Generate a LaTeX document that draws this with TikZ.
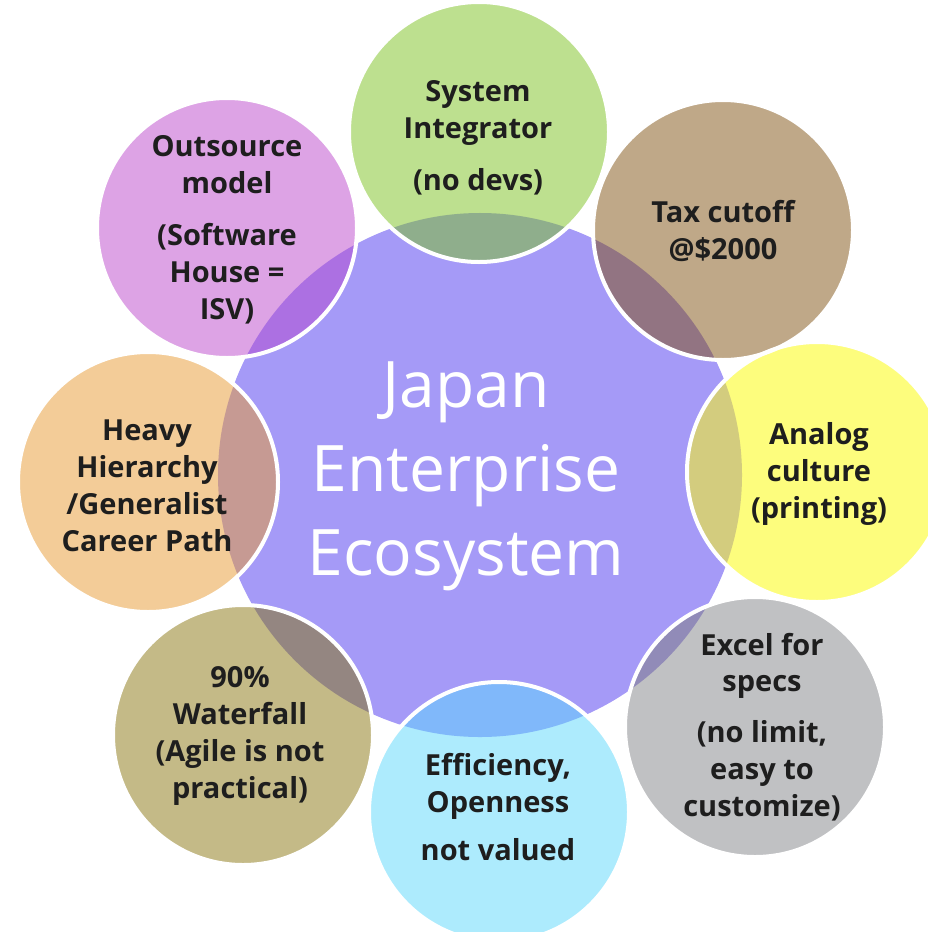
\documentclass[tikz,border=0pt]{standalone}
\usepackage{fontspec}
\setmainfont{Open Sans}

\definecolor{hubfill}{HTML}{A59AF7}
\definecolor{ink}{HTML}{1E1E1E}
\definecolor{sifill}{HTML}{BDE08F}  \definecolor{siover}{HTML}{8FAE8C}
\definecolor{taxfill}{HTML}{BFA888} \definecolor{taxover}{HTML}{927482}
\definecolor{anafill}{HTML}{FDFD7D} \definecolor{anaover}{HTML}{D3CC7E}
\definecolor{xlsfill}{HTML}{C0C1C3} \definecolor{xlsover}{HTML}{918BB8}
\definecolor{efffill}{HTML}{ADEBFD} \definecolor{effover}{HTML}{80B8FA}
\definecolor{wtrfill}{HTML}{C4BA87} \definecolor{wtrover}{HTML}{948681}
\definecolor{hiefill}{HTML}{F3CC98} \definecolor{hieover}{HTML}{C69A93}
\definecolor{outfill}{HTML}{DDA3E5} \definecolor{outover}{HTML}{AC70E2}

\begin{document}
\begin{tikzpicture}[x=0.2mm, y=-0.2mm,
  rim/.style={white, line width=0.8mm},
  lbl/.style={align=center, text=ink, font=\bfseries\fontsize{16.5}{21}\selectfont},
  hubtext/.style={align=center, text=white, font=\fontsize{36.5}{47.8}\selectfont}]
  \useasboundingbox (0,0) rectangle (928,932);
  \clip (0,0) rectangle (928,932);

  % centre and the eight satellites
  \coordinate (hub) at (480,475);
  \coordinate (si)  at (479,132);
  \coordinate (tax) at (723,230);
  \coordinate (ana) at (817,472);
  \coordinate (xls) at (755,727);
  \coordinate (eff) at (499,812);
  \coordinate (wtr) at (243,735);
  \coordinate (hie) at (148,482);
  \coordinate (out) at (227,228);

  \fill[hubfill] (hub) circle (52.4mm);

  \fill[sifill]  (si)  circle (26mm);
  \fill[taxfill] (tax) circle (26mm);
  \fill[anafill] (ana) circle (26mm);
  \fill[xlsfill] (xls) circle (26mm);
  \fill[efffill] (eff) circle (26mm);
  \fill[wtrfill] (wtr) circle (26mm);
  \fill[hiefill] (hie) circle (26mm);
  \fill[outfill] (out) circle (26mm);

  % where they cover the centre
  \begin{scope}
    \clip (hub) circle (52.4mm);
    \fill[siover]  (si)  circle (26mm);
    \fill[taxover] (tax) circle (26mm);
    \fill[anaover] (ana) circle (26mm);
    \fill[xlsover] (xls) circle (26mm);
    \fill[effover] (eff) circle (26mm);
    \fill[wtrover] (wtr) circle (26mm);
    \fill[hieover] (hie) circle (26mm);
    \fill[outover] (out) circle (26mm);
  \end{scope}

  \draw[rim] (si)  circle (26mm);
  \draw[rim] (tax) circle (26mm);
  \draw[rim] (ana) circle (26mm);
  \draw[rim] (xls) circle (26mm);
  \draw[rim] (eff) circle (26mm);
  \draw[rim] (wtr) circle (26mm);
  \draw[rim] (hie) circle (26mm);
  \draw[rim] (out) circle (26mm);

  % labels
  \node[hubtext] (title) at (466,476) {Japan\\Enterprise\\Ecosystem};
  \node[lbl] (sitxt)  at (478,138) {System\\Integrator\\[3mm](no devs)};
  \node[lbl] (taxtxt) at (723,231) {Tax cutoff\\@\$2000};
  \node[lbl] (anatxt) at (819,474) {Analog\\culture\\(printing)};
  \node[lbl] (xlstxt) at (762,727) {Excel for\\specs\\[2.8mm](no limit,\\easy to\\customize)};
  \node[lbl] (efftxt) at (498,807) {Efficiency,\\Openness\\[2.2mm]not valued};
  \node[lbl] (wtrtxt) at (240,736) {90\%\\Waterfall\\(Agile is not\\practical)};
  \node[lbl] (hietxt) at (147,486) {Heavy\\Hierarchy\\/Generalist\\Career Path};
  \node[lbl] (outtxt) at (227,230) {Outsource\\model\\[3mm](Software\\House =\\ISV)};
\end{tikzpicture}
\end{document}
